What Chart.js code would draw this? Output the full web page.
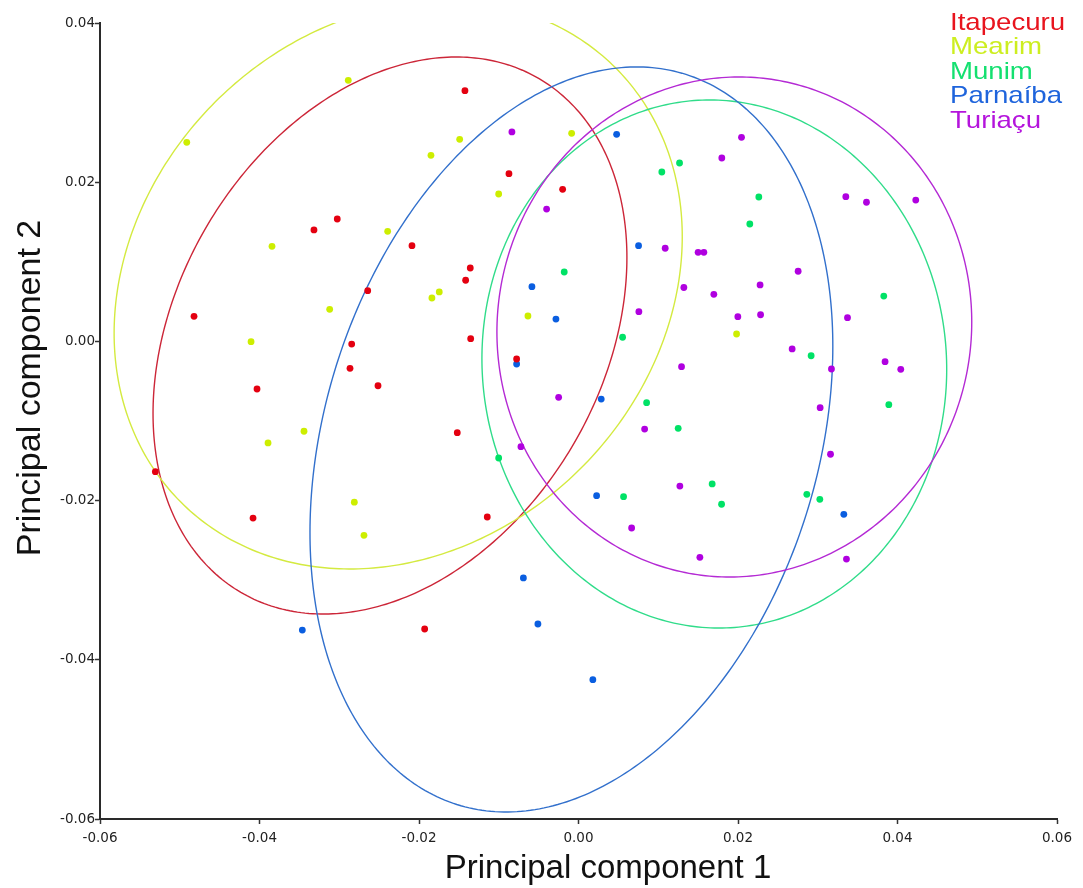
<!DOCTYPE html>
<html>
<head>
<meta charset="utf-8">
<script src="https://cdn.jsdelivr.net/npm/chart.js@4.4.1/dist/chart.umd.min.js"></script>
<style>
html,body{margin:0;padding:0;background:#fff;}
#c{display:block;}
</style>
</head>
<body>
<canvas id="c" width="1083" height="888"></canvas>
<script>
// ---- data ----
const groupNames = ['Itapecuru', 'Mearim', 'Munim', 'Parnaíba', 'Turiaçu'];

const itapecuruX = [-0.01424, -0.00872, -0.00199, -0.03025, -0.03317, -0.02088, -0.01357, -0.01415, -0.02643, -0.04821, -0.01352, -0.02844, -0.02865, -0.00776, -0.02514, -0.04031, -0.01520, -0.05306, -0.01144, -0.04081, -0.01929];
const itapecuruY = [0.03150, 0.02107, 0.01911, 0.01538, 0.01400, 0.01202, 0.00922, 0.00768, 0.00637, 0.00315, 0.00034, -0.00033, -0.00338, -0.00221, -0.00557, -0.00598, -0.01147, -0.01637, -0.02206, -0.02219, -0.03613];

const mearimX = [-0.04912, -0.02887, -0.03843, -0.00086, -0.01490, -0.01850, -0.01001, -0.02393, -0.01746, -0.01838, -0.03120, -0.04106, -0.00634, -0.03442, -0.03893, -0.02811, -0.02690, 0.01982];
const mearimY = [0.02501, 0.03280, 0.01195, 0.02614, 0.02539, 0.02338, 0.01852, 0.01383, 0.00621, 0.00545, 0.00403, -0.00004, 0.00319, -0.01129, -0.01276, -0.02020, -0.02436, 0.00093];

const munimX = [0.01267, 0.01045, 0.02261, 0.02148, -0.00179, 0.03828, 0.00553, 0.02917, 0.00854, 0.01250, 0.03891, -0.01001, 0.00565, 0.01676, 0.01794, 0.02863, 0.03026];
const munimY = [0.02241, 0.02128, 0.01814, 0.01475, 0.00872, 0.00570, 0.00052, -0.00180, -0.00770, -0.01092, -0.00795, -0.01465, -0.01951, -0.01791, -0.02046, -0.01921, -0.01984];

const parnaibaX = [0.00478, 0.00753, -0.00584, -0.00283, -0.00776, 0.00285, 0.00227, 0.03327, -0.00691, -0.00509, -0.03463, 0.00180];
const parnaibaY = [0.02602, 0.01202, 0.00687, 0.00281, -0.00284, -0.00724, -0.01938, -0.02172, -0.02972, -0.03550, -0.03626, -0.04250];

const turiacuX = [-0.00835, 0.02044, 0.01797, 0.03352, 0.03611, 0.04229, -0.00400, 0.01500, 0.01572, 0.01087, 0.02754, 0.01321, 0.02277, 0.01697, 0.00757, 0.01998, 0.02283, 0.03373, 0.02679, 0.01292, 0.03172, 0.03844, 0.04041, -0.00249, 0.00829, 0.03030, -0.00722, 0.03160, 0.01271, 0.00666, 0.01522, 0.03360];
const turiacuY = [0.02631, 0.02564, 0.02304, 0.01818, 0.01748, 0.01776, 0.01663, 0.01119, 0.01119, 0.01170, 0.00881, 0.00677, 0.00709, 0.00592, 0.00373, 0.00310, 0.00335, 0.00298, -0.00095, -0.00318, -0.00347, -0.00255, -0.00351, -0.00702, -0.01101, -0.00833, -0.01323, -0.01418, -0.01817, -0.02344, -0.02712, -0.02734];

// 95% ellipses: centre, half-extent in x / y, correlation
const ellipseCX = [-0.02364, -0.02261, 0.01703, -0.00089, 0.01954];
const ellipseCY = [0.00074, 0.00709, -0.00284, -0.01232, 0.00181];
const ellipseSX = [0.02971, 0.03562, 0.02914, 0.03278, 0.02977];
const ellipseSY = [0.03499, 0.03568, 0.03317, 0.04680, 0.03141];
const ellipseRho = [0.28, 0.17, -0.02, 0.25, 0.02];

const xTickLabels = ['-0.06', '-0.04', '-0.02', '0.00', '0.02', '0.04', '0.06'];
const yTickLabels = ['-0.06', '-0.04', '-0.02', '0.00', '0.02', '0.04'];

const xTitle = 'Principal component 1';
const yTitle = 'Principal component 2';

// ---- styles ----
const pointColors = ['#e40010', '#cdee00', '#00e266', '#0a5ee0', '#b000e0'];
const lineColors = ['#cc2638', '#d4ea40', '#30dc8a', '#3270cc', '#b42ad4'];
const legendColors = ['#e8141e', '#cdee20', '#14e070', '#1e64dc', '#b414dc'];

const seriesX = [itapecuruX, mearimX, munimX, parnaibaX, turiacuX];
const seriesY = [itapecuruY, mearimY, munimY, parnaibaY, turiacuY];

const datasets = groupNames.map((name, i) => ({
  label: name,
  data: seriesX[i].map((x, j) => ({x: x, y: seriesY[i][j]})),
  backgroundColor: pointColors[i],
  borderWidth: 0,
  pointRadius: 3.4,
  pointHoverRadius: 3.4
}));

const ellipsePlugin = {
  id: 'ellipses',
  beforeDatasetsDraw(chart) {
    const {ctx, chartArea, scales} = chart;
    ctx.save();
    ctx.beginPath();
    ctx.rect(chartArea.left, chartArea.top, chartArea.right - chartArea.left, chartArea.bottom - chartArea.top);
    ctx.clip();
    for (let i = 0; i < ellipseCX.length; i++) {
      const d = Math.acos(ellipseRho[i]);
      ctx.beginPath();
      for (let k = 0; k <= 360; k++) {
        const t = k * Math.PI / 180;
        const vx = ellipseCX[i] + ellipseSX[i] * Math.cos(t);
        const vy = ellipseCY[i] + ellipseSY[i] * Math.cos(t - d);
        const px = scales.x.getPixelForValue(vx);
        const py = scales.y.getPixelForValue(vy);
        if (k === 0) ctx.moveTo(px, py); else ctx.lineTo(px, py);
      }
      ctx.closePath();
      ctx.strokeStyle = lineColors[i];
      ctx.lineWidth = 1.4;
      ctx.stroke();
    }
    ctx.restore();
  }
};

const textPlugin = {
  id: 'texts',
  afterDraw(chart) {
    const {ctx} = chart;
    ctx.save();
    // legend
    ctx.font = '24px "Liberation Sans", Arial, sans-serif';
    ctx.textAlign = 'left';
    ctx.textBaseline = 'alphabetic';
    groupNames.forEach((name, i) => {
      ctx.save();
      ctx.translate(950, 30 + i * 24.4);
      ctx.scale(1.15, 1);
      ctx.fillStyle = legendColors[i];
      ctx.fillText(name, 0, 0);
      ctx.restore();
    });
    // axis titles
    ctx.fillStyle = '#111';
    ctx.font = '33px "Liberation Sans", Arial, sans-serif';
    ctx.textAlign = 'center';
    ctx.textBaseline = 'alphabetic';
    ctx.fillText(xTitle, 608, 878);
    ctx.save();
    ctx.translate(40, 388);
    ctx.rotate(-Math.PI / 2);
    ctx.font = '34px "Liberation Sans", Arial, sans-serif';
    ctx.fillText(yTitle, 0, 0);
    ctx.restore();
    ctx.restore();
  }
};

const tickFont = {family: '"DejaVu Sans", Verdana, sans-serif', size: 13.5};

new Chart(document.getElementById('c'), {
  type: 'scatter',
  data: {datasets: datasets},
  options: {
    responsive: false,
    animation: false,
    events: [],
    layout: {padding: {top: 23, right: 26, left: 0, bottom: 0}},
    plugins: {legend: {display: false}, tooltip: {enabled: false}},
    scales: {
      x: {
        type: 'linear', min: -0.06, max: 0.06,
        ticks: {stepSize: 0.02, font: tickFont, color: '#222', padding: 6,
          callback: (v, i) => xTickLabels[i]},
        grid: {drawOnChartArea: false, drawTicks: true, tickLength: 5, tickColor: '#333', tickWidth: 1.5},
        border: {display: true, color: '#2a2a2a', width: 2},
        afterFit(s) { s.height = 69; }
      },
      y: {
        type: 'linear', min: -0.06, max: 0.04,
        ticks: {stepSize: 0.02, font: tickFont, color: '#222', padding: 0,
          callback: (v, i) => yTickLabels[i]},
        grid: {drawOnChartArea: false, drawTicks: true, tickLength: 5, tickColor: '#333', tickWidth: 1.5},
        border: {display: true, color: '#2a2a2a', width: 2},
        afterFit(s) { s.width = 100; }
      }
    }
  },
  plugins: [ellipsePlugin, textPlugin]
});
</script>
</body>
</html>
